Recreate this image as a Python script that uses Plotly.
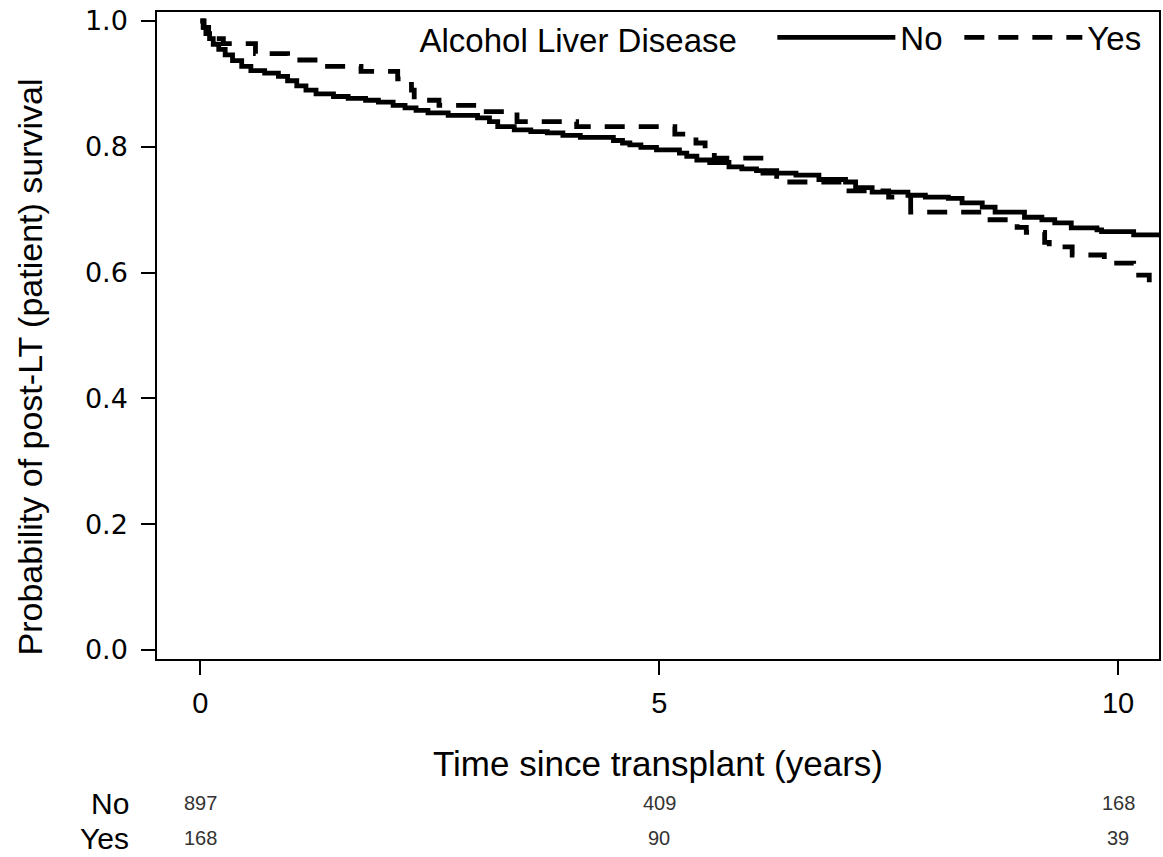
import plotly.graph_objects as go

# Kaplan-Meier estimates (time in years, survival probability)
time_no = [0, 0.03, 0.06, 0.1, 0.14, 0.2, 0.27, 0.35, 0.45, 0.55, 0.7, 0.85, 0.95, 1.05, 1.15,
           1.26, 1.45, 1.61, 1.8, 1.94, 2.1, 2.23, 2.35, 2.48, 2.7, 3.02, 3.15, 3.24, 3.42, 3.6,
           3.78, 3.95, 4.14, 4.5, 4.6, 4.68, 4.8, 4.97, 5.22, 5.3, 5.41, 5.55, 5.76, 5.9, 6.06,
           6.13, 6.49, 6.74, 7.03, 7.14, 7.32, 7.71, 7.9, 8.15, 8.3, 8.52, 8.66, 8.98, 9.17, 9.31,
           9.49, 9.77, 9.82, 10.17, 10.45]
surv_no = [1.0, 0.99, 0.98, 0.972, 0.963, 0.955, 0.946, 0.937, 0.928, 0.921, 0.917, 0.912, 0.905,
           0.897, 0.89, 0.884, 0.88, 0.877, 0.874, 0.871, 0.866, 0.862, 0.858, 0.854, 0.85, 0.846,
           0.84, 0.832, 0.827, 0.824, 0.822, 0.818, 0.815, 0.81, 0.806, 0.803, 0.799, 0.795, 0.79,
           0.785, 0.779, 0.775, 0.768, 0.765, 0.762, 0.758, 0.755, 0.748, 0.744, 0.735, 0.728,
           0.723, 0.72, 0.718, 0.711, 0.704, 0.696, 0.688, 0.684, 0.679, 0.671, 0.668, 0.665,
           0.66, 0.66]

time_yes = [0, 0.04, 0.09, 0.14, 0.25, 0.6, 0.95, 1.35, 1.75, 2.15, 2.3, 2.33, 2.6, 3.05, 3.45,
            4.1, 5.17, 5.4, 5.5, 5.6, 6.15, 6.28, 7.0, 7.5, 7.74, 8.55, 8.9, 9.0, 9.2, 9.25, 9.5,
            9.85, 10.17, 10.34]
surv_yes = [1.0, 0.99, 0.98, 0.972, 0.964, 0.948, 0.938, 0.928, 0.92, 0.908, 0.89, 0.874, 0.866,
            0.856, 0.84, 0.832, 0.82, 0.806, 0.793, 0.782, 0.762, 0.744, 0.73, 0.72, 0.696, 0.684,
            0.672, 0.664, 0.648, 0.641, 0.628, 0.615, 0.596, 0.584]

group_names = ["No", "Yes"]
legend_title = "Alcohol Liver Disease"
risk_times = [0, 5, 10]
risk_no = [897, 409, 168]
risk_yes = [168, 90, 39]
x_ticks = [0, 5, 10]
y_ticks = [0.0, 0.2, 0.4, 0.6, 0.8, 1.0]
x_title = "Time since transplant (years)"
y_title = "Probability of post-LT (patient) survival"

FONT = "Liberation Sans, Arial, sans-serif"

fig = go.Figure()
fig.add_trace(go.Scatter(x=time_no, y=surv_no, mode="lines", name=group_names[0],
                         line=dict(color="black", width=4.8, shape="hv")))
fig.add_trace(go.Scatter(x=time_yes, y=surv_yes, mode="lines", name=group_names[1],
                         line=dict(color="black", width=4.8, shape="hv", dash="20px,14px")))

ann = []
# y-axis title (placed as in the reference, slightly below the axis centre)
ann.append(dict(text=y_title, textangle=-90, x=-0.1265, xref="paper", xanchor="center",
                y=0.451, yref="paper", yanchor="middle", showarrow=False,
                font=dict(family=FONT, size=34, color="black")))
# number-at-risk table
for lbl, yp in ((group_names[0], -0.2226), (group_names[1], -0.2767)):
    ann.append(dict(text=lbl, x=0.0, xref="paper", xanchor="right", xshift=-26,
                    y=yp, yref="paper", yanchor="middle", showarrow=False,
                    font=dict(family=FONT, size=30, color="black")))
for vals, yp in ((risk_no, -0.2226), (risk_yes, -0.2767)):
    for t, v in zip(risk_times, vals):
        ann.append(dict(text=str(v), x=t, xref="x", xanchor="center",
                        y=yp, yref="paper", yanchor="middle", showarrow=False,
                        font=dict(family=FONT, size=20, color="#333333")))

fig.update_layout(
    width=1163, height=857,
    margin=dict(l=157, r=2, t=12, b=198),
    paper_bgcolor="white", plot_bgcolor="white",
    font=dict(family=FONT, color="black"),
    showlegend=True,
    legend=dict(orientation="h", x=0.26, xanchor="left", y=1.004, yanchor="top",
                bgcolor="rgba(0,0,0,0)", itemwidth=118, entrywidth=54,
                font=dict(family=FONT, size=33, color="black"),
                title=dict(text=legend_title + "   ", side="left",
                           font=dict(family=FONT, size=33, color="black"))),
    annotations=ann,
    xaxis=dict(range=[-0.473, 10.446], tickvals=x_ticks, ticktext=[str(v) for v in x_ticks],
               showgrid=False, zeroline=False, showline=True, linecolor="black", linewidth=1.5,
               mirror=True, ticks="outside", ticklen=14, tickwidth=1.5, tickcolor="black",
               ticklabelstandoff=3,
               tickfont=dict(family=FONT, size=29, color="black"),
               title=dict(text=x_title, standoff=34, font=dict(family=FONT, size=35, color="black"))),
    yaxis=dict(range=[-0.0143, 1.0143], tickvals=y_ticks, ticktext=[f"{v:.1f}" for v in y_ticks],
               showgrid=False, zeroline=False, showline=True, linecolor="black", linewidth=1.5,
               mirror=True, ticks="outside", ticklen=14, tickwidth=1.5, tickcolor="black",
               ticklabelstandoff=8,
               tickfont=dict(family="DejaVu Sans, sans-serif", size=27, color="black")),
)

fig.write_html("out.html", config={"displayModeBar": False},
               post_script="document.body.style.margin='0';document.body.style.overflow='hidden';")
